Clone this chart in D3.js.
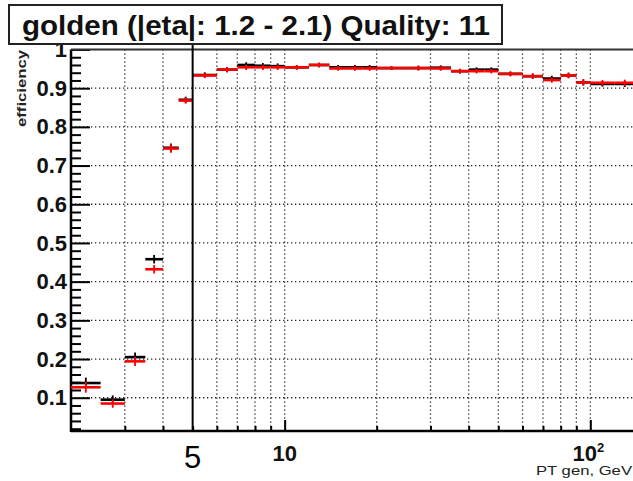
<!DOCTYPE html>
<html>
<head>
<meta charset="utf-8">
<script src="https://cdn.jsdelivr.net/npm/d3@7"></script>
<style>
  body { margin: 0; background: #fff; }
  svg { display: block; font-family: "Liberation Sans", Arial, sans-serif; }
</style>
</head>
<body>
<svg id="chart" width="633" height="481"></svg>
<script>
// bin edges in PT gen (GeV)
var binEdges = [2, 2.5, 3, 3.5, 4, 4.5, 5, 6, 7, 8, 9, 10, 12, 14, 16, 18, 20, 25, 30, 35, 40, 45, 50, 60, 70, 80, 90, 100, 120, 140];

var blackEff = [0.138, 0.095, 0.205, 0.458, 0.746, 0.870, 0.934, 0.948, 0.960, 0.958, 0.957, 0.954, 0.960, 0.954, 0.954, 0.954, 0.952, 0.952, 0.953, 0.944, 0.948, 0.948, 0.937, 0.931, 0.925, 0.933, 0.915, 0.911, 0.911];
var blackErr = [0.014, 0.011, 0.012, 0.011, 0.011, 0.008, 0.007, 0.007, 0.007, 0.007, 0.007, 0.006, 0.006, 0.006, 0.006, 0.006, 0.005, 0.006, 0.006, 0.006, 0.006, 0.006, 0.006, 0.007, 0.007, 0.007, 0.008, 0.007, 0.008];

var redEff = [0.127, 0.085, 0.194, 0.432, 0.744, 0.868, 0.933, 0.948, 0.954, 0.954, 0.954, 0.954, 0.960, 0.951, 0.951, 0.951, 0.952, 0.952, 0.951, 0.944, 0.944, 0.944, 0.937, 0.931, 0.921, 0.933, 0.915, 0.914, 0.914];
var redErr = [0.014, 0.011, 0.012, 0.011, 0.011, 0.008, 0.007, 0.007, 0.007, 0.007, 0.007, 0.006, 0.006, 0.006, 0.006, 0.006, 0.005, 0.006, 0.006, 0.006, 0.006, 0.006, 0.006, 0.007, 0.007, 0.007, 0.008, 0.007, 0.008];

var yMajor = [0.1, 0.2, 0.3, 0.4, 0.5, 0.6, 0.7, 0.8, 0.9, 1.0];
var xMinor = [3, 4, 5, 6, 7, 8, 9, 20, 30, 40, 50, 60, 70, 80, 90];
var xMajor = [10, 100];
var xGrid = [3, 4, 6, 7, 8, 9, 10, 20, 30, 40, 50, 60, 70, 80, 90, 100];
var cutValue = 5;

var svg = d3.select("#chart");
var pLeft = 71, pRight = 635, pTop = 49.5, pBottom = 431;

var x = d3.scaleLog().domain([2, 140]).range([pLeft, pRight]);
var y = d3.scaleLinear().domain([0.014, 1.0]).range([pBottom, pTop]);

// dotted grid
var grid = svg.append("g").attr("stroke", "#222").attr("stroke-width", 1.3).attr("stroke-dasharray", "1.3,2.7");
grid.selectAll(".gy").data(yMajor.filter(function(d) { return d < 1; }))
  .enter().append("line")
    .attr("x1", pLeft).attr("x2", pRight)
    .attr("y1", function(d) { return y(d); }).attr("y2", function(d) { return y(d); });
grid.selectAll(".gx").data(xGrid)
  .enter().append("line")
    .attr("y1", pTop).attr("y2", pBottom)
    .attr("x1", function(d) { return x(d); }).attr("x2", function(d) { return x(d); });

// y axis ticks (inside the frame)
var yMinor = d3.range(0.02, 1.0001, 0.02).filter(function(v) { return Math.abs(v * 10 - Math.round(v * 10)) > 1e-6; });
var gyMin = svg.append("g").attr("transform", "translate(" + pLeft + ",0)")
  .call(d3.axisRight(y).tickValues(yMinor).tickSize(10).tickFormat(""));
var gyMaj = svg.append("g").attr("transform", "translate(" + pLeft + ",0)")
  .call(d3.axisRight(y).tickValues(yMajor).tickSize(19).tickFormat(""));
var gyLab = svg.append("g").attr("transform", "translate(" + (pLeft - 3) + ",0)")
  .call(d3.axisLeft(y).tickValues(yMajor).tickSize(0).tickPadding(1)
    .tickFormat(function(d) { return d === 1 ? "1" : d3.format(".1f")(d); }));
gyLab.selectAll("text").attr("font-size", 22).attr("font-weight", "bold").attr("font-family", "Liberation Sans, Arial, sans-serif").attr("fill", "#111");

// x axis ticks (pointing up)
var gxMin = svg.append("g").attr("transform", "translate(0," + pBottom + ")")
  .call(d3.axisTop(x).tickValues(xMinor).tickSize(5).tickFormat(""));
var gxMaj = svg.append("g").attr("transform", "translate(0," + pBottom + ")")
  .call(d3.axisTop(x).tickValues(xMajor).tickSize(11).tickFormat(""));

[gyMin, gyMaj, gyLab, gxMin, gxMaj].forEach(function(g) {
  g.select(".domain").remove();
  g.selectAll("line").attr("stroke", "#000").attr("stroke-width", 2);
});

// frame
svg.append("line").attr("x1", pLeft).attr("x2", pLeft).attr("y1", pTop).attr("y2", pBottom + 1)
  .attr("stroke", "#000").attr("stroke-width", 2.5);
svg.append("line").attr("x1", pLeft).attr("x2", 633).attr("y1", pBottom).attr("y2", pBottom)
  .attr("stroke", "#000").attr("stroke-width", 2.5);
svg.append("line").attr("x1", pLeft).attr("x2", 633).attr("y1", pTop).attr("y2", pTop)
  .attr("stroke", "#333").attr("stroke-width", 2);

// x tick labels
svg.append("text").attr("x", x(10)).attr("y", 461).attr("text-anchor", "middle")
  .attr("font-size", 22).attr("font-weight", "bold").attr("fill", "#111").text("10");
var t100 = svg.append("text").attr("x", x(100) - 2).attr("y", 461).attr("text-anchor", "middle")
  .attr("font-size", 22).attr("font-weight", "bold").attr("fill", "#111");
t100.append("tspan").text("10");
t100.append("tspan").attr("dy", -9).attr("font-size", 13).text("2");

// axis titles
svg.append("text").attr("x", 632).attr("y", 475).attr("text-anchor", "end")
  .attr("font-size", 12).attr("fill", "#222")
  .attr("textLength", 96).attr("lengthAdjust", "spacingAndGlyphs").text("PT gen, GeV");
svg.append("text").attr("transform", "translate(26,50) rotate(-90)").attr("text-anchor", "end")
  .attr("font-size", 13).attr("font-weight", "bold").attr("fill", "#222")
  .attr("textLength", 77).attr("lengthAdjust", "spacingAndGlyphs").text("efficiency");

// data points with errors
var bins = d3.range(binEdges.length - 1).map(function(i) {
  return { lo: binEdges[i], hi: binEdges[i + 1], mid: Math.sqrt(binEdges[i] * binEdges[i + 1]) };
});

function drawSeries(eff, err, color) {
  var g = svg.append("g").attr("stroke", color).attr("stroke-width", 2.6);
  g.selectAll(".h").data(bins)
    .enter().append("line")
      .attr("x1", function(d) { return x(d.lo); })
      .attr("x2", function(d) { return x(d.hi); })
      .attr("y1", function(d, i) { return y(eff[i]); })
      .attr("y2", function(d, i) { return y(eff[i]); });
  g.selectAll(".v").data(bins)
    .enter().append("line")
      .attr("stroke-width", 1.8)
      .attr("x1", function(d) { return x(d.mid); })
      .attr("x2", function(d) { return x(d.mid); })
      .attr("y1", function(d, i) { return y(eff[i] - err[i]); })
      .attr("y2", function(d, i) { return y(eff[i] + err[i]); });
}
drawSeries(blackEff, blackErr, "#000");
drawSeries(redEff, redErr, "#ff0000");

// cut line at 5 GeV
svg.append("line").attr("x1", x(cutValue)).attr("x2", x(cutValue)).attr("y1", 44).attr("y2", pBottom)
  .attr("stroke", "#000").attr("stroke-width", 2);
svg.append("text").attr("x", x(cutValue)).attr("y", 468).attr("text-anchor", "middle")
  .attr("font-size", 31).attr("fill", "#000").text("5");

// title box
svg.append("rect").attr("x", 9).attr("y", 5).attr("width", 493).attr("height", 39)
  .attr("fill", "#fff").attr("stroke", "#222").attr("stroke-width", 2);
svg.append("text").attr("x", 22).attr("y", 35)
  .attr("font-size", 28).attr("font-weight", "bold").attr("fill", "#111")
  .attr("textLength", 468).attr("lengthAdjust", "spacingAndGlyphs")
  .text("golden (|eta|: 1.2 - 2.1) Quality: 11");
</script>
</body>
</html>
